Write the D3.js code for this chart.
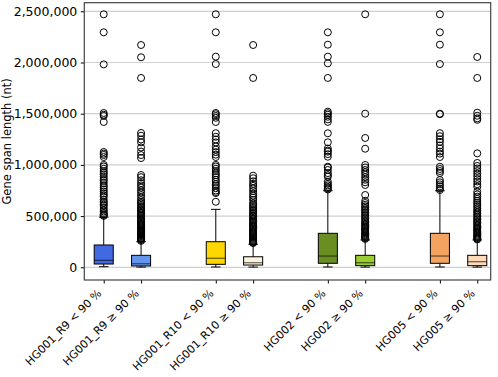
<!DOCTYPE html>
<html>
<head>
<meta charset="utf-8">
<script src="https://cdn.jsdelivr.net/npm/d3@7"></script>
<style>
  body { margin: 0; background: #fff; }
  svg text { font-family: 'DejaVu Sans', sans-serif; fill: #000; }
</style>
</head>
<body>
<div id="chart"></div>
<script>
// Categories and box statistics
var categories = ['HG001_R9 < 90 %', 'HG001_R9 \u2265 90 %', 'HG001_R10 < 90 %', 'HG001_R10 \u2265 90 %',
                  'HG002 < 90 %', 'HG002 \u2265 90 %', 'HG005 < 90 %', 'HG005 \u2265 90 %'];
var positions = [1, 2, 4, 5, 7, 8, 10, 11];
var boxColors = ['#4169e1', '#6495ed', '#ffd700', '#fbf3dc', '#6b8e23', '#9acd32', '#f4a460', '#ffdab9'];

var whiskerLow  = [6000, 2000, 3000, 2000, 3000, 2000, 3000, 2000];
var q1          = [32000, 13000, 29000, 22000, 39000, 16000, 39000, 16000];
var medians     = [68000, 35000, 88000, 45000, 110000, 45000, 110000, 55000];
var q3          = [218000, 117000, 250000, 103000, 332000, 117000, 332000, 117000];
var whiskerHigh = [490000, 250000, 566000, 225000, 748000, 267000, 748000, 267000];

var outliers = [
  [2471000, 2295000, 1982000, 1507000, 1490000, 1478000, 1419000, 1126000, 1110000, 1097000, 1077000,
   1000000, 985000, 962000, 940000, 921000, 905000, 884000, 862000, 845000, 823000, 800000, 782000,
   760000, 741000, 722000, 705000, 688000, 660000, 641000, 628000, 612000, 600000, 579000, 560000,
   545000, 530000, 518000, 511000, 502000],
  [2171000, 2051000, 1849000, 1312000, 1285000, 1248000, 1220000, 1170000, 1130000, 1096000, 1067000,
   901000, 880000, 850000, 822000, 800000, 778000, 752000, 730000, 705000, 681000, 657000, 640000,
   628000, 610000, 596000, 581000, 566000, 552000, 540000, 528000, 515000, 502000, 490000, 478000,
   466000, 455000, 444000, 433000, 421000, 410000, 400000, 390000, 380000, 370000, 360000, 350000,
   341000, 332000, 323000, 314000, 305000, 297000, 289000, 281000, 274000, 267000, 258000],
  [2471000, 2295000, 2057000, 1985000, 1507000, 1495000, 1478000, 1460000, 1419000, 1310000, 1275000,
   1248000, 1220000, 1180000, 1150000, 1125000, 1100000, 1077000, 1000000, 985000, 962000, 940000,
   918000, 900000, 880000, 855000, 835000, 812000, 795000, 772000, 750000, 735000, 725000, 640000],
  [2171000, 1849000, 895000, 870000, 840000, 815000, 795000, 770000, 745000, 720000, 700000, 680000,
   657000, 628000, 612000, 598000, 582000, 568000, 552000, 538000, 522000, 508000, 495000, 482000,
   470000, 458000, 446000, 434000, 422000, 410000, 399000, 388000, 377000, 366000, 355000, 344000,
   334000, 324000, 314000, 304000, 295000, 286000, 277000, 268000, 259000, 250000, 242000, 237000],
  [2295000, 2174000, 2057000, 1992000, 1849000, 1520000, 1505000, 1490000, 1470000, 1445000, 1420000,
   1309000, 1221000, 1160000, 1140000, 1129000, 1105000, 1080000, 982000, 975000, 950000, 920000,
   900000, 885000, 836000, 815000, 800000, 785000, 771000, 760000],
  [2471000, 1500000, 1263000, 1158000, 999000, 975000, 950000, 928000, 905000, 880000, 855000, 830000,
   804000, 706000, 650000, 628000, 610000, 595000, 580000, 565000, 550000, 535000, 520000, 505000,
   490000, 476000, 462000, 448000, 435000, 422000, 410000, 398000, 386000, 375000, 364000, 353000,
   342000, 332000, 322000, 312000, 303000, 294000, 285000, 277000],
  [2471000, 2295000, 2174000, 1985000, 1500000, 1495000, 1310000, 1280000, 1250000, 1225000, 1190000,
   1160000, 1130000, 1110000, 1077000, 982000, 960000, 940000, 921000, 852000, 830000, 810000, 790000,
   770000, 755000],
  [2054000, 1849000, 1510000, 1480000, 1455000, 1440000, 1113000, 1019000, 990000, 965000, 940000,
   915000, 890000, 862000, 838000, 812000, 787000, 738000, 712000, 690000, 668000, 648000, 628000,
   610000, 592000, 575000, 558000, 542000, 526000, 510000, 495000, 480000, 466000, 452000, 438000,
   425000, 412000, 400000, 388000, 376000, 364000, 352000, 341000, 330000, 319000, 309000, 299000,
   289000, 280000, 272000]
];

var yTicks = [0, 500000, 1000000, 1500000, 2000000, 2500000];

(function(){
  var width = 498, height = 377;
  var plot = {left: 84.3, right: 490.7, top: 2.7, bottom: 280};
  var boxWidth = 0.51;

  var x = d3.scaleLinear().domain([0.48, 11.36]).range([plot.left, plot.right]);
  var y = d3.scaleLinear().domain([-124000, 2584000]).range([plot.bottom, plot.top]);

  var svg = d3.select('#chart')
    .append('svg')
    .attr('width', width)
    .attr('height', height);

  // Grid
  svg.append('g')
    .selectAll('line')
    .data(yTicks)
    .enter()
    .append('line')
    .attr('x1', plot.left)
    .attr('x2', plot.right)
    .attr('y1', function(d) {return y(d);})
    .attr('y2', function(d) {return y(d);})
    .attr('stroke', '#cfcfcf')
    .attr('stroke-width', 1.2);

  var boxes = categories.map(function(c, i) {
    return {
      name: c, pos: positions[i], color: boxColors[i],
      lo: whiskerLow[i], q1: q1[i], med: medians[i], q3: q3[i], hi: whiskerHigh[i],
      out: outliers[i]
    };
  });

  var g = svg.append('g')
    .selectAll('g.box')
    .data(boxes)
    .enter()
    .append('g')
    .classed('box', true);

  // whiskers
  g.append('line')
    .attr('x1', function(d) {return x(d.pos);})
    .attr('x2', function(d) {return x(d.pos);})
    .attr('y1', function(d) {return y(d.q3);})
    .attr('y2', function(d) {return y(d.hi);})
    .attr('stroke', '#000');
  g.append('line')
    .attr('x1', function(d) {return x(d.pos);})
    .attr('x2', function(d) {return x(d.pos);})
    .attr('y1', function(d) {return y(d.q1);})
    .attr('y2', function(d) {return y(d.lo);})
    .attr('stroke', '#000');

  // caps
  ['hi', 'lo'].forEach(function(k) {
    g.append('line')
      .attr('x1', function(d) {return x(d.pos - boxWidth / 4);})
      .attr('x2', function(d) {return x(d.pos + boxWidth / 4);})
      .attr('y1', function(d) {return y(d[k]);})
      .attr('y2', function(d) {return y(d[k]);})
      .attr('stroke', '#000');
  });

  g.append('rect')
    .attr('x', function(d) {return x(d.pos - boxWidth / 2);})
    .attr('width', function(d) {return x(d.pos + boxWidth / 2) - x(d.pos - boxWidth / 2);})
    .attr('y', function(d) {return y(d.q3);})
    .attr('height', function(d) {return y(d.q1) - y(d.q3);})
    .attr('fill', function(d) {return d.color;})
    .attr('stroke', '#000');

  g.append('line')
    .attr('x1', function(d) {return x(d.pos - boxWidth / 2);})
    .attr('x2', function(d) {return x(d.pos + boxWidth / 2);})
    .attr('y1', function(d) {return y(d.med);})
    .attr('y2', function(d) {return y(d.med);})
    .attr('stroke', '#000')
    .attr('stroke-opacity', 0.55)
    .attr('stroke-width', 1.3);

  // fliers
  g.selectAll('circle')
    .data(function(d) {return d.out.map(function(v) {return {pos: d.pos, v: v};});})
    .enter()
    .append('circle')
    .attr('cx', function(d) {return x(d.pos);})
    .attr('cy', function(d) {return y(d.v);})
    .attr('r', 3.5)
    .attr('fill', 'none')
    .attr('stroke', '#000')
    .attr('stroke-width', 1);

  // Axes
  var yAxis = svg.append('g')
    .attr('transform', 'translate(' + plot.left + ',0)')
    .call(d3.axisLeft(y).tickValues(yTicks).tickSize(3.5).tickPadding(3.5).tickFormat(d3.format(',')));
  yAxis.select('.domain').remove();
  yAxis.selectAll('text').style('font-size', '12.5px').style('font-family', 'DejaVu Sans');

  var xAxis = svg.append('g')
    .attr('transform', 'translate(0,' + plot.bottom + ')')
    .call(d3.axisBottom(x).tickValues(positions).tickSize(3.5).tickFormat(''));
  xAxis.select('.domain').remove();

  svg.append('g')
    .selectAll('text')
    .data(boxes)
    .enter()
    .append('text')
    .attr('transform', function(d) {return 'translate(' + (x(d.pos) - 1.5) + ',' + (plot.bottom + 14) + ') rotate(-45)';})
    .attr('text-anchor', 'end')
    .style('font-size', '11px')
    .text(function(d) {return d.name;});

  // frame
  svg.append('rect')
    .attr('x', plot.left)
    .attr('y', plot.top)
    .attr('width', plot.right - plot.left)
    .attr('height', plot.bottom - plot.top)
    .attr('fill', 'none')
    .attr('stroke', '#444')
    .attr('stroke-width', 1.2);

  svg.append('text')
    .attr('transform', 'translate(11,' + ((plot.top + plot.bottom) / 2) + ') rotate(-90)')
    .attr('text-anchor', 'middle')
    .style('font-size', '11.5px')
    .text('Gene span length (nt)');
})();
</script>
</body>
</html>
